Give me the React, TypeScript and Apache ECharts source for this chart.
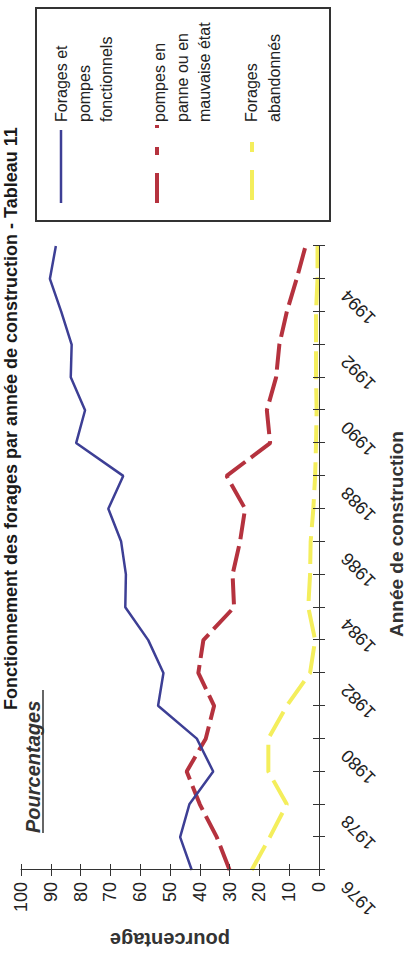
import React, { useEffect, useRef } from 'react';
import * as echarts from 'echarts';

const years = ['1976', '1977', '1978', '1979', '1980', '1981', '1982', '1983', '1984', '1985', '1986', '1987', '1988', '1989', '1990', '1991', '1992', '1993', '1994', '1995'];
const fonctionnels = [42.7, 46.6, 43.5, 35.5, 41, 54, 52.2, 57.3, 65, 64.8, 66.4, 70.7, 65.7, 81.5, 78.5, 83.3, 83, 86.5, 90.3, 88.3];
const enPanne = [30, 34.3, 40, 44.4, 38, 35.2, 40.5, 38.8, 28.5, 29, 26.5, 24.8, 31, 16.4, 17.5, 14.4, 13.3, 10.8, 7.5, 4.5];
const abandonnes = [22.6, 16.5, 10.8, 17, 17, 10.8, 3, 1.3, 3.6, 3, 2.8, 1.9, 1.3, 1, 0.8, 1, 1, 1, 0.5, 0.5];

const seriesNames = ['Forages et pompes fonctionnels', 'pompes en panne ou en mauvaise état', 'Forages abandonnés'];
const legendTexts = ['Forages et\npompes\nfonctionnels', 'pompes en\npanne ou en\nmauvaise état', 'Forages\nabandonnés'];
const titleText = 'Fonctionnement des forages par année de construction - Tableau 11';
const subTitleText = 'Pourcentages';
const xName = 'Année de construction';
const yName = 'pourcentage';

const BLUE = '#3d3f95';
const RED = '#b5323e';
const YELLOW = '#f4ee5c';
const AX = '#333333';
const FONT = '"Liberation Sans", Arial, sans-serif';
const NB = '\u00a0\u00a0\u00a0\u00a0';

export default function App() {
  const ref = useRef<HTMLDivElement>(null);
  useEffect(() => {
    const chart = echarts.init(ref.current as HTMLDivElement, null, { renderer: 'svg' });
    const axisLineStyle = { color: AX, width: 1 };
    chart.setOption({
      animation: false,
      backgroundColor: '#ffffff',
      textStyle: { fontFamily: FONT },
      grid: { left: 84, right: 246, top: 21, bottom: 88, containLabel: false, outerBoundsMode: 'none' },
      xAxis: [
        {
          type: 'category',
          data: years,
          boundaryGap: false,
          position: 'bottom',
          z: 5,
          axisLine: { show: true, lineStyle: axisLineStyle },
          axisTick: { show: true, interval: 0, length: 6, inside: false, lineStyle: axisLineStyle },
          axisLabel: {
            interval: 1,
            rotate: 45,
            fontSize: 18,
            color: '#222',
            margin: 11,
            fontFamily: FONT,
            formatter: (v: string) => v + NB,
          },
          splitLine: { show: false },
        },
        {
          type: 'category',
          data: years,
          boundaryGap: false,
          position: 'bottom',
          z: 5,
          axisLine: { show: false },
          axisTick: { show: true, interval: 0, length: 6, inside: true, lineStyle: axisLineStyle },
          axisLabel: { show: false },
          splitLine: { show: false },
        },
      ],
      yAxis: [
        {
          type: 'value',
          min: 0,
          max: 100,
          interval: 10,
          position: 'left',
          z: 5,
          axisLine: { show: true, lineStyle: axisLineStyle },
          axisTick: { show: true, length: 6, inside: false, lineStyle: axisLineStyle },
          axisLabel: { fontSize: 18, color: '#222', margin: 12, fontFamily: FONT },
          splitLine: { show: false },
        },
        {
          type: 'value',
          min: 0,
          max: 100,
          interval: 10,
          position: 'left',
          z: 5,
          axisLine: { show: false },
          axisTick: { show: true, length: 6, inside: true, lineStyle: axisLineStyle },
          axisLabel: { show: false },
          splitLine: { show: false },
        },
      ],
      series: [
        {
          type: 'line',
          name: seriesNames[0],
          data: fonctionnels,
          symbol: 'none',
          xAxisIndex: 0,
          yAxisIndex: 0,
          lineStyle: { color: BLUE, width: 2.5 },
          z: 4,
        },
        {
          type: 'line',
          name: seriesNames[1],
          data: enPanne,
          symbol: 'none',
          xAxisIndex: 0,
          yAxisIndex: 0,
          lineStyle: { color: RED, width: 4, type: [26, 7] },
          z: 3,
        },
        {
          type: 'line',
          name: seriesNames[2],
          data: abandonnes,
          symbol: 'none',
          xAxisIndex: 0,
          yAxisIndex: 0,
          lineStyle: { color: YELLOW, width: 4, type: [28, 9] },
          z: 2,
        },
      ],
      graphic: [
        {
          type: 'text',
          x: 244,
          y: 11,
          style: { text: titleText, font: `bold 18px ${FONT}`, fill: '#1a1a1a', verticalAlign: 'middle', align: 'left' },
        },
        {
          type: 'text',
          x: 121,
          y: 33,
          style: { text: subTitleText, font: `italic bold 20px ${FONT}`, fill: '#333', verticalAlign: 'middle', align: 'left' },
        },
        {
          type: 'line',
          shape: { x1: 121, y1: 43, x2: 264, y2: 43 },
          style: { stroke: '#333', lineWidth: 1.5 },
        },
        {
          type: 'text',
          x: 317,
          y: 396,
          style: { text: xName, font: `bold 19px ${FONT}`, fill: '#333', verticalAlign: 'middle', align: 'left' },
        },
        {
          type: 'text',
          x: 14,
          y: 170,
          rotation: Math.PI / 2,
          style: { text: yName, font: `bold 20px ${FONT}`, fill: '#333', verticalAlign: 'middle', align: 'center' },
        },
        {
          type: 'rect',
          shape: { x: 733, y: 36, width: 213, height: 294 },
          style: { fill: 'none', stroke: '#333', lineWidth: 2 },
        },
        {
          type: 'line',
          shape: { x1: 751, y1: 61, x2: 824, y2: 61 },
          style: { stroke: BLUE, lineWidth: 2.5 },
        },
        {
          type: 'line',
          shape: { x1: 751, y1: 157, x2: 830, y2: 157 },
          style: { stroke: RED, lineWidth: 4, lineDash: [30, 18, 8, 19, 3, 100] },
        },
        {
          type: 'line',
          shape: { x1: 754, y1: 252, x2: 812, y2: 252 },
          style: { stroke: YELLOW, lineWidth: 4, lineDash: [30, 18, 10, 50] },
        },
        {
          type: 'text',
          x: 832,
          y: 50.5,
          style: { text: legendTexts[0], font: `16px ${FONT}`, fill: '#222', lineHeight: 22.5, verticalAlign: 'top', align: 'left' },
        },
        {
          type: 'text',
          x: 832,
          y: 148.5,
          style: { text: legendTexts[1], font: `16px ${FONT}`, fill: '#222', lineHeight: 22.5, verticalAlign: 'top', align: 'left' },
        },
        {
          type: 'text',
          x: 832,
          y: 240.5,
          style: { text: legendTexts[2], font: `16px ${FONT}`, fill: '#222', lineHeight: 22.5, verticalAlign: 'top', align: 'left' },
        },
      ],
    });
    return () => chart.dispose();
  }, []);
  return (
    <div style={{ position: 'fixed', left: 0, top: 0, width: 407, height: 954, overflow: 'hidden', background: '#fff' }}>
      <div
        ref={ref}
        style={{
          position: 'absolute',
          left: 0,
          top: 0,
          width: 954,
          height: 407,
          transform: 'translate(0px, 954px) rotate(-90deg)',
          transformOrigin: '0 0',
        }}
      />
    </div>
  );
}
